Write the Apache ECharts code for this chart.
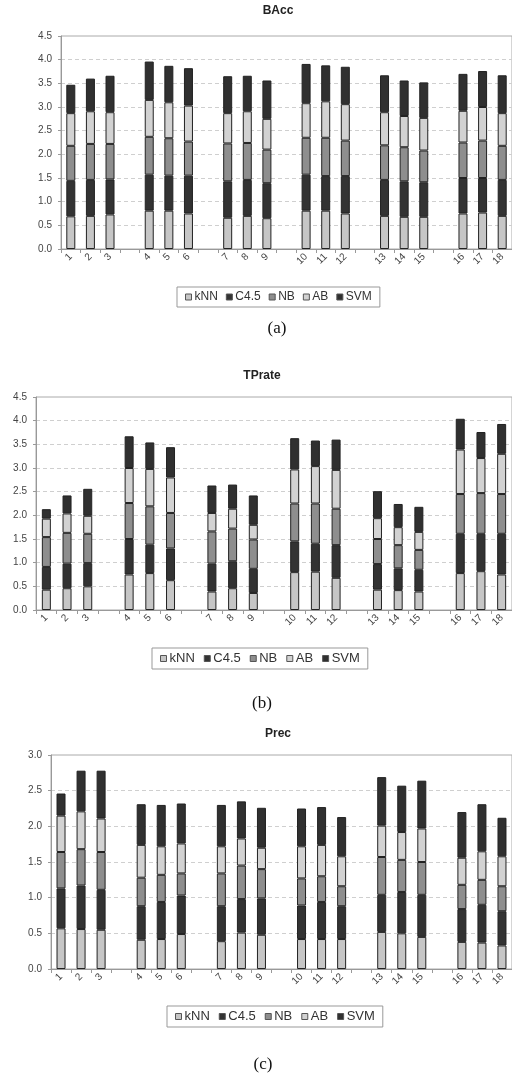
<!DOCTYPE html>
<html>
<head>
<meta charset="utf-8">
<script src="https://cdn.jsdelivr.net/npm/echarts@6/dist/echarts.min.js"></script>
<style>
  html, body { margin:0; padding:0; background:#fff; }
  #chart { width:512px; height:1078px; }
</style>
</head>
<body>
<div id="chart"></div>
<script>
// slots on the category axis, '' marks an empty gap between groups
const categories = ['1','2','3','','4','5','6','','7','8','9','','10','11','12','','13','14','15','','16','17','18'];
const methods = ['kNN','C4.5','NB','AB','SVM'];
const colors = ['#c6c6c6','#333333','#8e8e8e','#d2d2d2','#303030'];

// BAcc
const baccKnn = [0.69,0.70,0.73,0.81,0.81,0.75,0.66,0.70,0.65,0.81,0.81,0.75,0.70,0.68,0.68,0.75,0.77,0.70];
const baccC45 = [0.75,0.76,0.74,0.76,0.74,0.80,0.77,0.76,0.74,0.76,0.73,0.79,0.76,0.75,0.73,0.75,0.73,0.76];
const baccNb  = [0.74,0.76,0.75,0.80,0.79,0.72,0.80,0.78,0.71,0.78,0.81,0.75,0.73,0.72,0.67,0.75,0.79,0.72];
const baccAb  = [0.69,0.69,0.67,0.78,0.76,0.76,0.64,0.67,0.65,0.73,0.77,0.77,0.70,0.66,0.69,0.67,0.71,0.69];
const baccSvm = [0.60,0.69,0.77,0.81,0.77,0.79,0.78,0.75,0.81,0.83,0.76,0.79,0.78,0.75,0.75,0.78,0.76,0.80];

// TPrate
const tprKnn = [0.43,0.46,0.50,0.75,0.78,0.63,0.39,0.46,0.36,0.80,0.81,0.68,0.43,0.42,0.39,0.78,0.82,0.75];
const tprC45 = [0.48,0.52,0.49,0.75,0.60,0.67,0.59,0.57,0.51,0.65,0.59,0.69,0.54,0.46,0.46,0.83,0.79,0.86];
const tprNb  = [0.63,0.65,0.62,0.76,0.81,0.75,0.68,0.69,0.62,0.80,0.85,0.77,0.53,0.49,0.42,0.84,0.86,0.84];
const tprAb  = [0.39,0.41,0.38,0.74,0.79,0.75,0.39,0.42,0.31,0.72,0.79,0.82,0.44,0.38,0.38,0.94,0.74,0.85];
const tprSvm = [0.20,0.38,0.57,0.67,0.56,0.64,0.58,0.51,0.62,0.66,0.54,0.64,0.57,0.49,0.53,0.65,0.55,0.63];

// Prec
const precKnn = [0.57,0.56,0.55,0.41,0.42,0.49,0.39,0.51,0.48,0.42,0.42,0.42,0.52,0.50,0.45,0.38,0.37,0.33];
const precC45 = [0.56,0.61,0.56,0.47,0.52,0.54,0.49,0.47,0.51,0.47,0.52,0.46,0.52,0.58,0.59,0.46,0.53,0.48];
const precNb  = [0.51,0.51,0.53,0.40,0.38,0.31,0.46,0.47,0.41,0.38,0.36,0.28,0.53,0.45,0.46,0.34,0.35,0.35];
const precAb  = [0.51,0.53,0.47,0.46,0.40,0.42,0.38,0.38,0.30,0.45,0.44,0.42,0.44,0.39,0.47,0.38,0.40,0.42];
const precSvm = [0.31,0.57,0.67,0.57,0.58,0.56,0.58,0.52,0.56,0.53,0.53,0.55,0.68,0.65,0.67,0.64,0.66,0.54];

const panels = [
    { title:'BAcc',   caption:'(a)', max:4.5, data:[baccKnn,baccC45,baccNb,baccAb,baccSvm],
      grid:{ left:61, top:36, width:457, height:213 }, titleX:278, titleY:5,
      legendX:177, legendY:287, legendFont:12, legendGap:8, captionX:277, captionY:320 },
    { title:'TPrate', caption:'(b)', max:4.5, data:[tprKnn,tprC45,tprNb,tprAb,tprSvm],
      grid:{ left:36, top:397, width:480, height:213 }, titleX:262, titleY:370,
      legendX:152, legendY:648, legendFont:13, legendGap:9, captionX:262, captionY:695 },
    { title:'Prec',   caption:'(c)', max:3.0, data:[precKnn,precC45,precNb,precAb,precSvm],
      grid:{ left:51, top:755, width:473, height:214 }, titleX:278, titleY:728,
      legendX:167, legendY:1006, legendFont:13, legendGap:9, captionX:263, captionY:1056 }
];

// spread 18 values over the 23 slots, gaps stay empty
function fillSlots(values){
    let i = 0;
    return categories.map(c => c === '' ? '-' : values[i++]);
}

const font = 'Liberation Sans, Arial, sans-serif';
let titles = [], legends = [], grids = [], xAxes = [], yAxes = [], series = [];

panels.forEach((p, k) => {
    titles.push({
        text:p.title, left:p.titleX, top:p.titleY, textAlign:'center', padding:0,
        textStyle:{ fontFamily:font, fontSize:12, fontWeight:'bold', color:'#222' }
    });
    titles.push({
        text:p.caption, left:p.captionX, top:p.captionY, textAlign:'center', padding:0,
        textStyle:{ fontFamily:'Liberation Serif, Times New Roman, serif', fontSize:17, fontWeight:'normal', color:'#111' }
    });
    legends.push({
        data:methods, left:p.legendX, top:p.legendY, orient:'horizontal',
        icon:'rect', itemWidth:6, itemHeight:6, itemGap:p.legendGap,
        padding:[4,8], borderColor:'#999', borderWidth:1, borderRadius:0,
        selectedMode:false,
        itemStyle:{ borderColor:'#555', borderWidth:1 },
        textStyle:{ fontFamily:font, fontSize:p.legendFont, color:'#333', padding:[0,0,0,-2] }
    });
    grids.push(Object.assign({ show:true, borderColor:'#aaa', borderWidth:1, backgroundColor:'transparent' }, p.grid));
    xAxes.push({
        type:'category', gridIndex:k, data:categories, boundaryGap:true,
        axisLine:{ lineStyle:{ color:'#999' } },
        axisTick:{ show:true, interval:0, length:4, lineStyle:{ color:'#999' } },
        axisLabel:{ interval:0, rotate:45, margin:6, fontFamily:font, fontSize:10, color:'#444' }
    });
    yAxes.push({
        type:'value', gridIndex:k, min:0, max:p.max, interval:0.5,
        axisLine:{ show:true, lineStyle:{ color:'#999' } },
        axisTick:{ show:true, length:3, lineStyle:{ color:'#999' } },
        axisLabel:{ margin:9, fontFamily:font, fontSize:10, color:'#444', formatter:v => v.toFixed(1) },
        splitLine:{ show:true, showMaxLine:false, lineStyle:{ color:'#cfcfcf', type:[4,3] } }
    });
    methods.forEach((m, j) => {
        series.push({
            type:'bar', name:m, stack:'s' + k, xAxisIndex:k, yAxisIndex:k,
            barWidth:9, data:fillSlots(p.data[j]),
            itemStyle:{ color:colors[j], borderColor:'#222', borderWidth:1 },
            emphasis:{ disabled:true }
        });
    });
});

const myChart = echarts.init(document.getElementById('chart'));
myChart.setOption({
    animation:false,
    title:titles,
    legend:legends,
    grid:grids,
    xAxis:xAxes,
    yAxis:yAxes,
    series:series
});
</script>
</body>
</html>
